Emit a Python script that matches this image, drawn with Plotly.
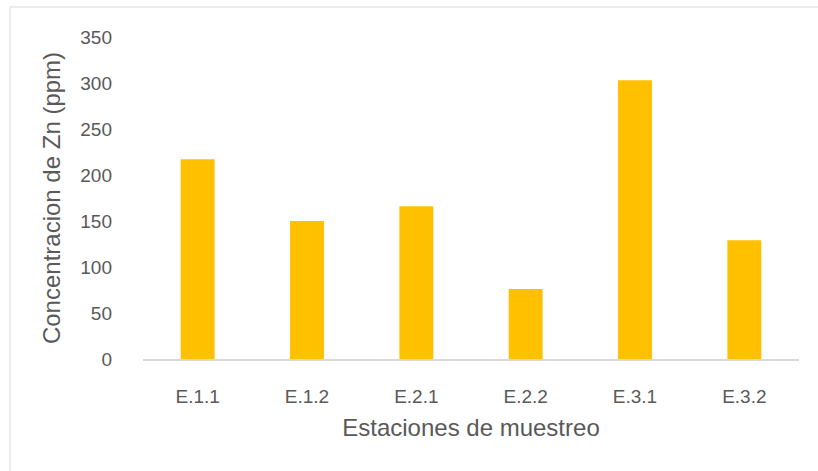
import plotly.graph_objects as go

categories = ["E.1.1", "E.1.2", "E.2.1", "E.2.2", "E.3.1", "E.3.2"]
values = [217, 150, 166, 76, 303, 129]
y_ticks = [0, 50, 100, 150, 200, 250, 300, 350]

W, H = 818, 471
L, R, T, B = 143, 19, 37, 112
pw, ph = W - L - R, H - T - B

fig = go.Figure(go.Bar(x=categories, y=values, marker=dict(color="#FFC000", line=dict(width=0))))

font_family = "Liberation Sans, Arial, sans-serif"
fig.update_layout(
    width=W, height=H,
    margin=dict(l=L, r=R, t=T, b=B),
    paper_bgcolor="white", plot_bgcolor="white",
    bargap=0.69,
    showlegend=False,
    font=dict(family=font_family, color="#595959", size=17),
    xaxis=dict(
        showline=True, linecolor="#D9D9D9", linewidth=1.5,
        showgrid=False, ticks="", ticklabelstandoff=19,
        tickfont=dict(size=19, color="#595959"),
        title=dict(text="Estaciones de muestreo", font=dict(size=24, color="#595959"), standoff=14),
    ),
    yaxis=dict(
        range=[0, 350], tickvals=y_ticks, showgrid=False, zeroline=False,
        showline=False, ticks="", ticklabelstandoff=30,
        tickfont=dict(size=19, color="#595959"),
        title=dict(text="Concentracion de Zn (ppm)", font=dict(size=24, color="#595959"), standoff=12),
    ),
)

# outer chart border (light gray)
x_left = (10 - L) / pw
x_right = (W + 10 - L) / pw
y_top = 1 + (T - 7) / ph
y_bot = -(H + 10 - T - ph) / ph
fig.add_shape(type="rect", xref="paper", yref="paper",
              x0=x_left, x1=x_right, y0=y_bot, y1=y_top,
              line=dict(color="#D9D9D9", width=1), fillcolor="rgba(0,0,0,0)", layer="below")

fig.write_html("out.html")
